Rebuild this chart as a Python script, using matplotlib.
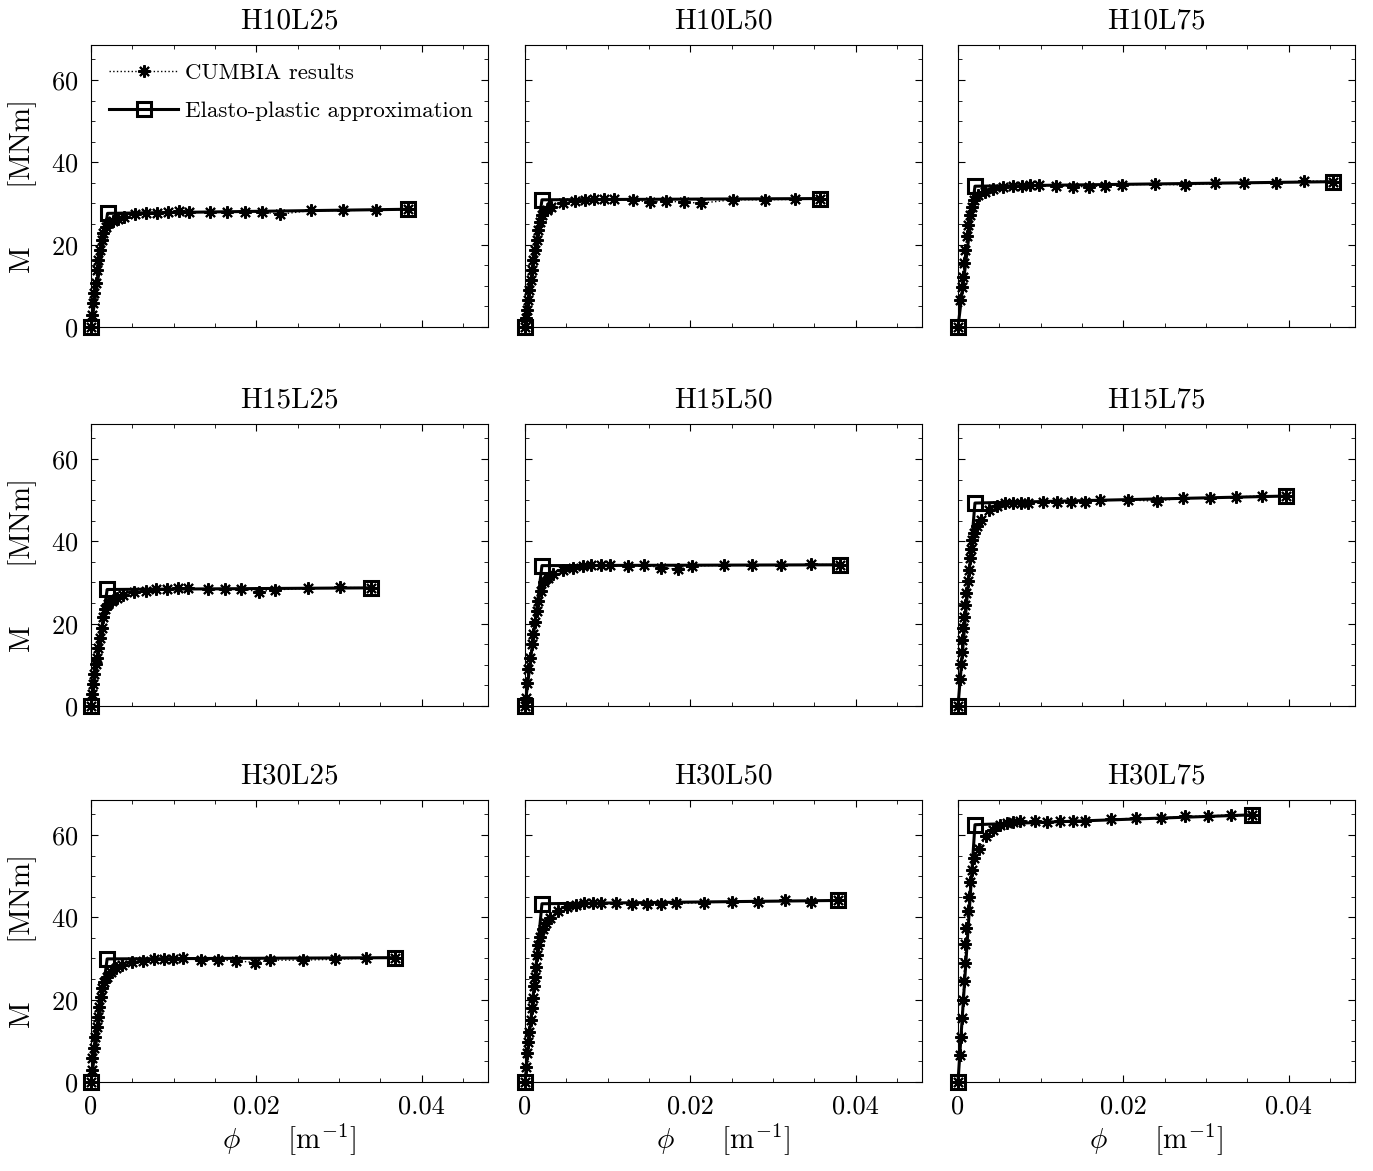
import matplotlib
matplotlib.use("Agg")
import matplotlib.pyplot as plt
from matplotlib.ticker import MultipleLocator

plt.rcParams['font.family'] = 'serif'
plt.rcParams['font.serif'] = ['cmr10', 'DejaVu Serif']
plt.rcParams['mathtext.fontset'] = 'cm'
plt.rcParams['axes.formatter.use_mathtext'] = True
plt.rcParams['axes.unicode_minus'] = False

titles = ['H10L25', 'H10L50', 'H10L75',
          'H15L25', 'H15L50', 'H15L75',
          'H30L25', 'H30L50', 'H30L75']

# CUMBIA moment-curvature results (phi [1/m], M [MNm])
phi_h10l25 = [0, 0.00008, 0.00028, 0.0004, 0.00056, 0.00072, 0.00088, 0.00109, 0.00129, 0.00149, 0.00177,
              0.00217, 0.0027, 0.0033, 0.0040, 0.0053, 0.0067, 0.0080, 0.0093, 0.0107, 0.0119, 0.0144,
              0.0164, 0.0186, 0.0207, 0.0229, 0.0266, 0.0305, 0.0345, 0.0383]
m_h10l25 = [0, 2.9, 5.8, 8.2, 10.6, 13.9, 16.3, 18.7, 21.1, 22.8, 24.4,
            25.2, 25.8, 26.2, 26.6, 27.4, 27.6, 27.8, 27.9, 28.1, 28.0, 27.9,
            27.9, 27.9, 27.9, 27.4, 28.3, 28.3, 28.4, 28.6]

phi_h10l50 = [0, 0.00012, 0.00028, 0.0004, 0.00052, 0.00068, 0.00084, 0.001, 0.0012, 0.0014, 0.0016, 0.0018,
              0.0021, 0.0026, 0.0032, 0.0046, 0.006, 0.0072, 0.0084, 0.0096, 0.0108, 0.013, 0.0151,
              0.0171, 0.0192, 0.0213, 0.0251, 0.029, 0.0326, 0.0357]
m_h10l50 = [0, 2.1, 4.1, 6.6, 9.0, 11.4, 13.9, 16.3, 18.7, 21.1, 23.6, 25.6,
            27.2, 28.4, 29.2, 30.2, 30.6, 30.9, 31.0, 31.0, 31.0, 30.9, 30.3,
            30.6, 30.3, 30.1, 30.9, 30.9, 31.0, 31.2]

phi_h10l75 = [0, 0.00024, 0.00044, 0.00056, 0.00072, 0.00084, 0.00105, 0.00125, 0.00145, 0.00165, 0.00193,
              0.00245, 0.00326, 0.00426, 0.0055, 0.0067, 0.0077, 0.0087, 0.0098, 0.0119, 0.0139,
              0.0158, 0.0178, 0.0198, 0.0238, 0.0274, 0.0311, 0.0346, 0.0384, 0.0418, 0.0453]
m_h10l75 = [0, 6.6, 9.8, 12.2, 15.5, 18.7, 22.0, 24.8, 27.2, 29.2, 30.9,
            32.1, 32.9, 33.5, 34.1, 34.3, 34.3, 34.4, 34.5, 34.3, 34.1,
            34.1, 34.3, 34.5, 34.7, 34.5, 34.9, 34.9, 34.9, 35.5, 35.3]

phi_h15l25 = [0, 0.00008, 0.00028, 0.0004, 0.00056, 0.00072, 0.00088, 0.00109, 0.00129, 0.00149, 0.00169,
              0.00201, 0.0025, 0.0031, 0.0039, 0.0052, 0.0066, 0.0079, 0.0092, 0.0105, 0.0117, 0.0142,
              0.0162, 0.0181, 0.0203, 0.0222, 0.0262, 0.0301, 0.0339]
m_h15l25 = [0, 2.8, 5.3, 7.7, 10.1, 11.7, 14.2, 16.6, 19.0, 21.5, 23.5,
            24.7, 25.5, 26.3, 26.9, 27.8, 27.9, 28.3, 28.5, 28.6, 28.6, 28.3,
            28.3, 28.4, 27.8, 28.2, 28.6, 28.8, 28.7]

phi_h15l50 = [0, 0.00012, 0.00028, 0.0004, 0.0006, 0.0008, 0.001, 0.0012, 0.0014, 0.0016, 0.0019,
              0.0023, 0.0028, 0.0034, 0.0046, 0.0058, 0.007, 0.008, 0.0092, 0.0103, 0.0125, 0.0144,
              0.0165, 0.0185, 0.0202, 0.024, 0.0274, 0.031, 0.0346, 0.0381]
m_h15l50 = [0, 2.0, 5.7, 8.9, 11.7, 15.0, 17.4, 20.3, 23.1, 25.5, 27.9,
            30.0, 31.2, 32.0, 33.0, 33.6, 34.0, 34.2, 34.2, 34.2, 34.0, 34.2,
            33.6, 33.2, 34.0, 34.2, 34.2, 34.2, 34.4, 34.3]

phi_h15l75 = [0, 0.00024, 0.00036, 0.00044, 0.00052, 0.00064, 0.00076, 0.00088, 0.00097, 0.00117, 0.00133,
              0.00145, 0.00157, 0.00173, 0.00193, 0.00225, 0.00273, 0.00378, 0.00474, 0.00567, 0.0066,
              0.00756, 0.0085, 0.0103, 0.0120, 0.0137, 0.0154, 0.0172, 0.0206, 0.0240, 0.0272, 0.0305,
              0.0336, 0.0367, 0.0397]
m_h15l75 = [0, 6.5, 10.1, 13.0, 16.0, 19.0, 21.7, 24.5, 27.4, 30.4, 33.0,
            35.9, 38.1, 40.3, 42.1, 43.7, 45.1, 47.5, 48.6, 49.2, 49.4,
            49.4, 49.4, 49.6, 49.6, 49.6, 49.6, 50.0, 50.1, 49.7, 50.6, 50.6,
            50.8, 51.0, 51.0]

phi_h30l25 = [0, 0.00008, 0.00016, 0.00032, 0.00048, 0.00068, 0.0008, 0.00096, 0.00117, 0.00137, 0.00157,
              0.00189, 0.0024, 0.003, 0.0037, 0.005, 0.0063, 0.0076, 0.0088, 0.0099, 0.0111, 0.0133,
              0.0154, 0.0175, 0.0198, 0.0217, 0.0256, 0.0295, 0.0332, 0.0367]
m_h30l25 = [0, 2.9, 5.8, 8.2, 11.0, 13.4, 15.9, 18.3, 20.7, 22.8, 24.4,
            25.6, 26.8, 27.6, 28.4, 29.2, 29.4, 29.8, 29.8, 29.8, 30.1, 29.6,
            29.6, 29.5, 29.0, 29.6, 29.6, 29.8, 30.1, 30.2]

phi_h30l50 = [0, 0.00012, 0.00028, 0.0004, 0.00052, 0.00068, 0.0008, 0.001, 0.00109, 0.0012, 0.00133, 0.00149,
              0.00161, 0.00181, 0.00213, 0.00253, 0.003, 0.004, 0.0051, 0.0062, 0.0071, 0.0082, 0.0092,
              0.011, 0.0129, 0.0147, 0.0165, 0.0183, 0.0217, 0.025, 0.0282, 0.0314, 0.0346, 0.0378]
m_h30l50 = [0, 3.7, 7.0, 9.8, 12.2, 15.1, 17.9, 20.3, 23.2, 25.6, 28.0, 30.9,
            33.3, 35.3, 37.1, 38.6, 39.8, 41.6, 42.6, 43.0, 43.4, 43.4, 43.4,
            43.6, 43.3, 43.3, 43.3, 43.4, 43.6, 43.7, 43.8, 44.1, 43.8, 44.1]

phi_h30l75 = [0, 0.00024, 0.00036, 0.00048, 0.0006, 0.0007, 0.0008, 0.0009, 0.001, 0.00115, 0.0013,
              0.0015, 0.0017, 0.0019, 0.00257, 0.00338, 0.00426, 0.00507, 0.00587, 0.00667, 0.00748,
              0.0093, 0.0108, 0.0123, 0.0139, 0.0154, 0.0185, 0.0215, 0.0245, 0.0274, 0.0302, 0.033,
              0.0356]
m_h30l75 = [0, 6.5, 11.0, 15.5, 20.0, 24.5, 29.0, 33.5, 37.5, 41.5, 45.0,
            48.5, 51.5, 54.3, 56.5, 59.8, 61.2, 62.5, 62.9, 63.1, 63.3,
            63.5, 63.1, 63.3, 63.5, 63.5, 63.8, 64.1, 64.1, 64.5, 64.6, 64.9,
            64.9]

cumbia_phi = [phi_h10l25, phi_h10l50, phi_h10l75, phi_h15l25, phi_h15l50,
              phi_h15l75, phi_h30l25, phi_h30l50, phi_h30l75]
cumbia_m = [m_h10l25, m_h10l50, m_h10l75, m_h15l25, m_h15l50,
            m_h15l75, m_h30l25, m_h30l50, m_h30l75]

# elasto-plastic approximation: yield and ultimate points
phi_y = [0.0020, 0.00205, 0.00205, 0.00195, 0.00205, 0.00205, 0.00195, 0.00205, 0.00205]
m_y = [27.6, 30.9, 34.2, 28.3, 34.1, 49.3, 29.9, 43.3, 62.5]
phi_u = [0.0383, 0.0357, 0.0453, 0.0339, 0.0381, 0.0397, 0.0367, 0.0378, 0.0356]
m_u = [28.6, 31.2, 35.3, 28.7, 34.3, 51.0, 30.2, 44.1, 64.9]

fig = plt.figure(figsize=(13.73, 11.71), dpi=100)
lefts = [91, 525, 958]
tops = [45, 424, 800]
W, H = 1373, 1171
asterisk = (8, 2, 0)

for i in range(9):
    r, c = divmod(i, 3)
    ax = fig.add_axes([lefts[c] / W, 1 - (tops[r] + 282) / H, 397 / W, 282 / H])
    ax.plot(cumbia_phi[i], cumbia_m[i], color='k', linestyle=':', linewidth=1,
            marker=asterisk, markersize=9, markeredgewidth=1.5, clip_on=False,
            label='CUMBIA results')
    ax.plot([0, phi_y[i], phi_u[i]], [0, m_y[i], m_u[i]], color='k', linewidth=2.2,
            marker='s', markersize=10, markerfacecolor='none', markeredgewidth=2.2,
            clip_on=False, label='Elasto-plastic approximation')
    ax.set_xlim(0, 0.048)
    ax.set_ylim(0, 68.5)
    ax.xaxis.set_major_locator(MultipleLocator(0.02))
    ax.xaxis.set_minor_locator(MultipleLocator(0.005))
    ax.yaxis.set_major_locator(MultipleLocator(20))
    ax.yaxis.set_minor_locator(MultipleLocator(5))
    ax.tick_params(which='both', direction='in', top=True, right=True, labelsize=19)
    ax.tick_params(which='major', length=5)
    ax.tick_params(which='minor', length=3)
    ax.tick_params(axis='x', which='major', pad=9)
    ax.tick_params(axis='y', which='major', pad=9)
    ax.xaxis.set_major_formatter(plt.FuncFormatter(lambda v, p: '0' if v == 0 else f'{v:.2f}'))
    ax.set_title(titles[i], fontsize=21, pad=12)
    if c == 0:
        ax.set_ylabel('M      [MNm]', fontsize=21, labelpad=10)
    else:
        ax.set_yticklabels([])
    if r == 2:
        ax.set_xlabel(r'$\phi$     [m$^{-1}$]', fontsize=21, labelpad=2)
    else:
        ax.set_xticklabels([])
    if i == 0:
        ax.legend(loc='upper left', frameon=False, fontsize=16.5, handlelength=3.0,
                  borderaxespad=0.4, handletextpad=0.3, labelspacing=0.75)

fig.savefig('out.png', dpi=100)
